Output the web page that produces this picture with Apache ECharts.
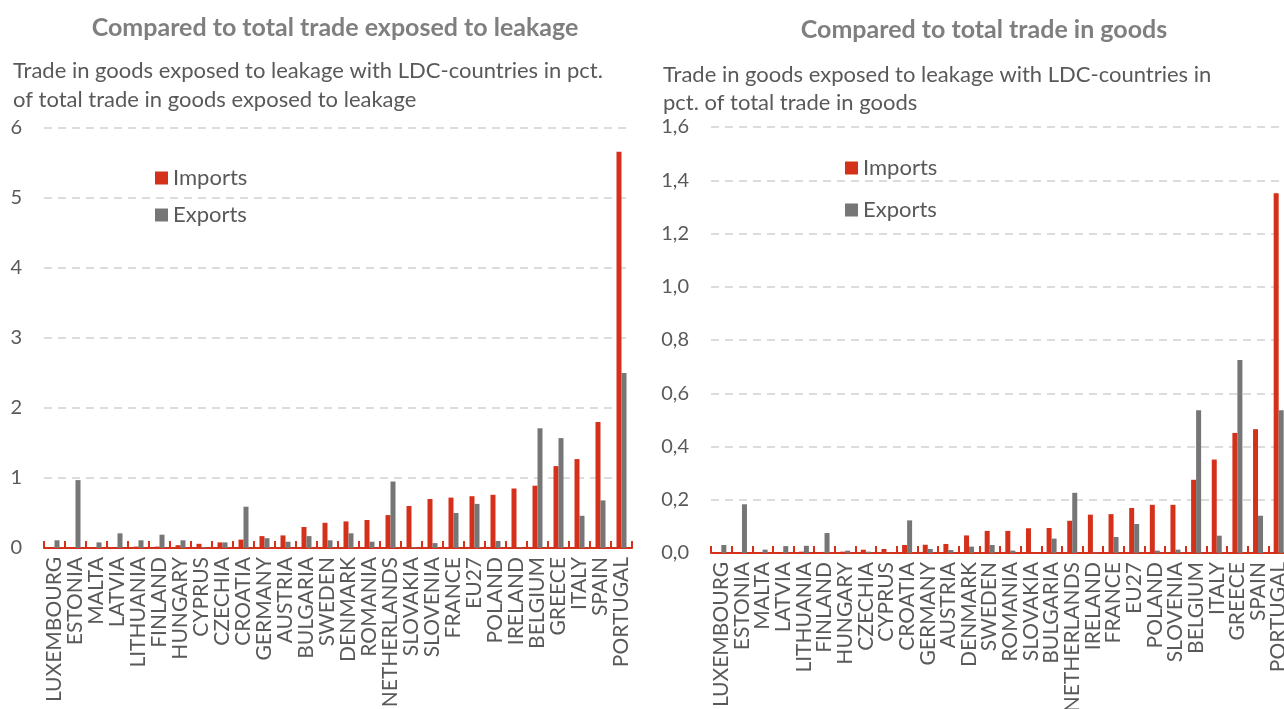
<!DOCTYPE html>
<html>
<head>
<meta charset="utf-8">
<script src="https://cdn.jsdelivr.net/npm/echarts@6/dist/echarts.min.js"></script>
<style>
  html, body { margin: 0; padding: 0; background: #ffffff; }
  #chart { width: 1284px; height: 709px; }
</style>
</head>
<body>
<div id="chart"></div>
<script>
// Left panel: share of trade exposed to leakage
const leftCountries = ['LUXEMBOURG','ESTONIA','MALTA','LATVIA','LITHUANIA','FINLAND','HUNGARY','CYPRUS','CZECHIA','CROATIA','GERMANY','AUSTRIA','BULGARIA','SWEDEN','DENMARK','ROMANIA','NETHERLANDS','SLOVAKIA','SLOVENIA','FRANCE','EU27','POLAND','IRELAND','BELGIUM','GREECE','ITALY','SPAIN','PORTUGAL'];
const leftImports = [0.00,0.00,0.00,0.015,0.02,0.02,0.04,0.06,0.08,0.12,0.17,0.18,0.30,0.36,0.38,0.40,0.47,0.60,0.70,0.72,0.74,0.76,0.85,0.89,1.17,1.27,1.80,5.66];
const leftExports = [0.11,0.97,0.08,0.21,0.11,0.19,0.11,0.01,0.08,0.59,0.14,0.09,0.17,0.11,0.21,0.09,0.95,0.01,0.07,0.50,0.63,0.10,0.01,1.71,1.57,0.46,0.68,2.50];

// Right panel: share of total trade in goods
const rightCountries = ['LUXEMBOURG','ESTONIA','MALTA','LATVIA','LITHUANIA','FINLAND','HUNGARY','CZECHIA','CYPRUS','CROATIA','GERMANY','AUSTRIA','DENMARK','SWEDEN','ROMANIA','SLOVAKIA','BULGARIA','NETHERLANDS','IRELAND','FRANCE','EU27','POLAND','SLOVENIA','BELGIUM','ITALY','GREECE','SPAIN','PORTUGAL'];
const rightImports = [0.000,0.000,0.000,0.002,0.005,0.004,0.005,0.0125,0.015,0.030,0.031,0.034,0.066,0.083,0.083,0.093,0.094,0.121,0.144,0.146,0.169,0.181,0.181,0.275,0.351,0.451,0.465,1.351];
const rightExports = [0.030,0.183,0.0125,0.026,0.027,0.075,0.009,0.005,0.001,0.1225,0.015,0.011,0.024,0.030,0.009,0.000,0.054,0.226,0.002,0.060,0.109,0.009,0.0125,0.536,0.065,0.725,0.140,0.536];

const leftTicks = { min: 0, max: 6, interval: 1 };
const rightTicks = { min: 0, max: 1.6, interval: 0.2 };

const RED = '#D4301A';
const GREY = '#767676';
const TEXT = '#595959';
const FONT = 'Lato, "Open Sans", sans-serif';

function xAxisFor(gridIndex, cats) {
  return {
    type: 'category', gridIndex: gridIndex, data: cats,
    axisLine: { lineStyle: { color: RED, width: 2 } },
    axisTick: { show: true, inside: true, length: 7, interval: 0, lineStyle: { color: RED, width: 2 } },
    axisLabel: { rotate: 90, interval: 0, margin: 9, color: TEXT, fontSize: 21, fontFamily: FONT }
  };
}
function yAxisFor(gridIndex, t, fmt) {
  return {
    type: 'value', gridIndex: gridIndex, min: t.min, max: t.max, interval: t.interval,
    axisLine: { show: false }, axisTick: { show: false },
    axisLabel: { margin: 22, color: TEXT, fontSize: 20, fontFamily: FONT, formatter: fmt },
    splitLine: { lineStyle: { color: '#dcdcdc', width: 2, type: [8, 6] } }
  };
}
function barSeries(name, xi, data, color) {
  return { name: name, type: 'bar', xAxisIndex: xi, yAxisIndex: xi, data: data,
    barWidth: 5, barGap: '0%', itemStyle: { color: color }, animation: false };
}

const chart = echarts.init(document.getElementById('chart'), null, { renderer: 'canvas' });
chart.setOption({
  animation: false,
  backgroundColor: '#ffffff',
  title: [
    { text: 'Compared to total trade exposed to leakage', left: 330, top: 10, textAlign: 'center',
      textStyle: { color: '#7f7f7f', fontSize: 25, fontWeight: 'bold', fontFamily: FONT } },
    { text: 'Compared to total trade in goods', left: 979, top: 12, textAlign: 'center',
      textStyle: { color: '#7f7f7f', fontSize: 25, fontWeight: 'bold', fontFamily: FONT } },
    { text: 'Trade in goods exposed to leakage with LDC-countries in pct.\nof total trade in goods exposed to leakage', left: 8, top: 51,
      textStyle: { color: TEXT, fontSize: 22, fontWeight: 'normal', fontFamily: FONT, lineHeight: 29 } },
    { text: 'Trade in goods exposed to leakage with LDC-countries in\npct. of total trade in goods', left: 658, top: 56,
      textStyle: { color: TEXT, fontSize: 22, fontWeight: 'normal', fontFamily: FONT, lineHeight: 28 } }
  ],
  legend: [
    { data: ['Imports', 'Exports'], orient: 'vertical', left: 150, top: 162, itemWidth: 13, itemHeight: 13, itemGap: 15,
      icon: 'rect', textStyle: { color: TEXT, fontSize: 22, fontFamily: FONT } },
    { data: ['Imports', 'Exports'], orient: 'vertical', left: 840, top: 152, itemWidth: 13, itemHeight: 13, itemGap: 20,
      icon: 'rect', textStyle: { color: TEXT, fontSize: 22, fontFamily: FONT } }
  ],
  grid: [
    { left: 44, top: 128, width: 588, height: 420, outerBoundsMode: 'none' },
    { left: 711, top: 127, width: 578, height: 426, outerBoundsMode: 'none' }
  ],
  xAxis: [ xAxisFor(0, leftCountries), xAxisFor(1, rightCountries) ],
  yAxis: [
    yAxisFor(0, leftTicks, function (v) { return String(v); }),
    yAxisFor(1, rightTicks, function (v) { return v.toFixed(1).replace('.', ','); })
  ],
  series: [
    barSeries('Imports', 0, leftImports, RED),
    barSeries('Exports', 0, leftExports, GREY),
    barSeries('Imports', 1, rightImports, RED),
    barSeries('Exports', 1, rightExports, GREY)
  ]
});
</script>
</body>
</html>
